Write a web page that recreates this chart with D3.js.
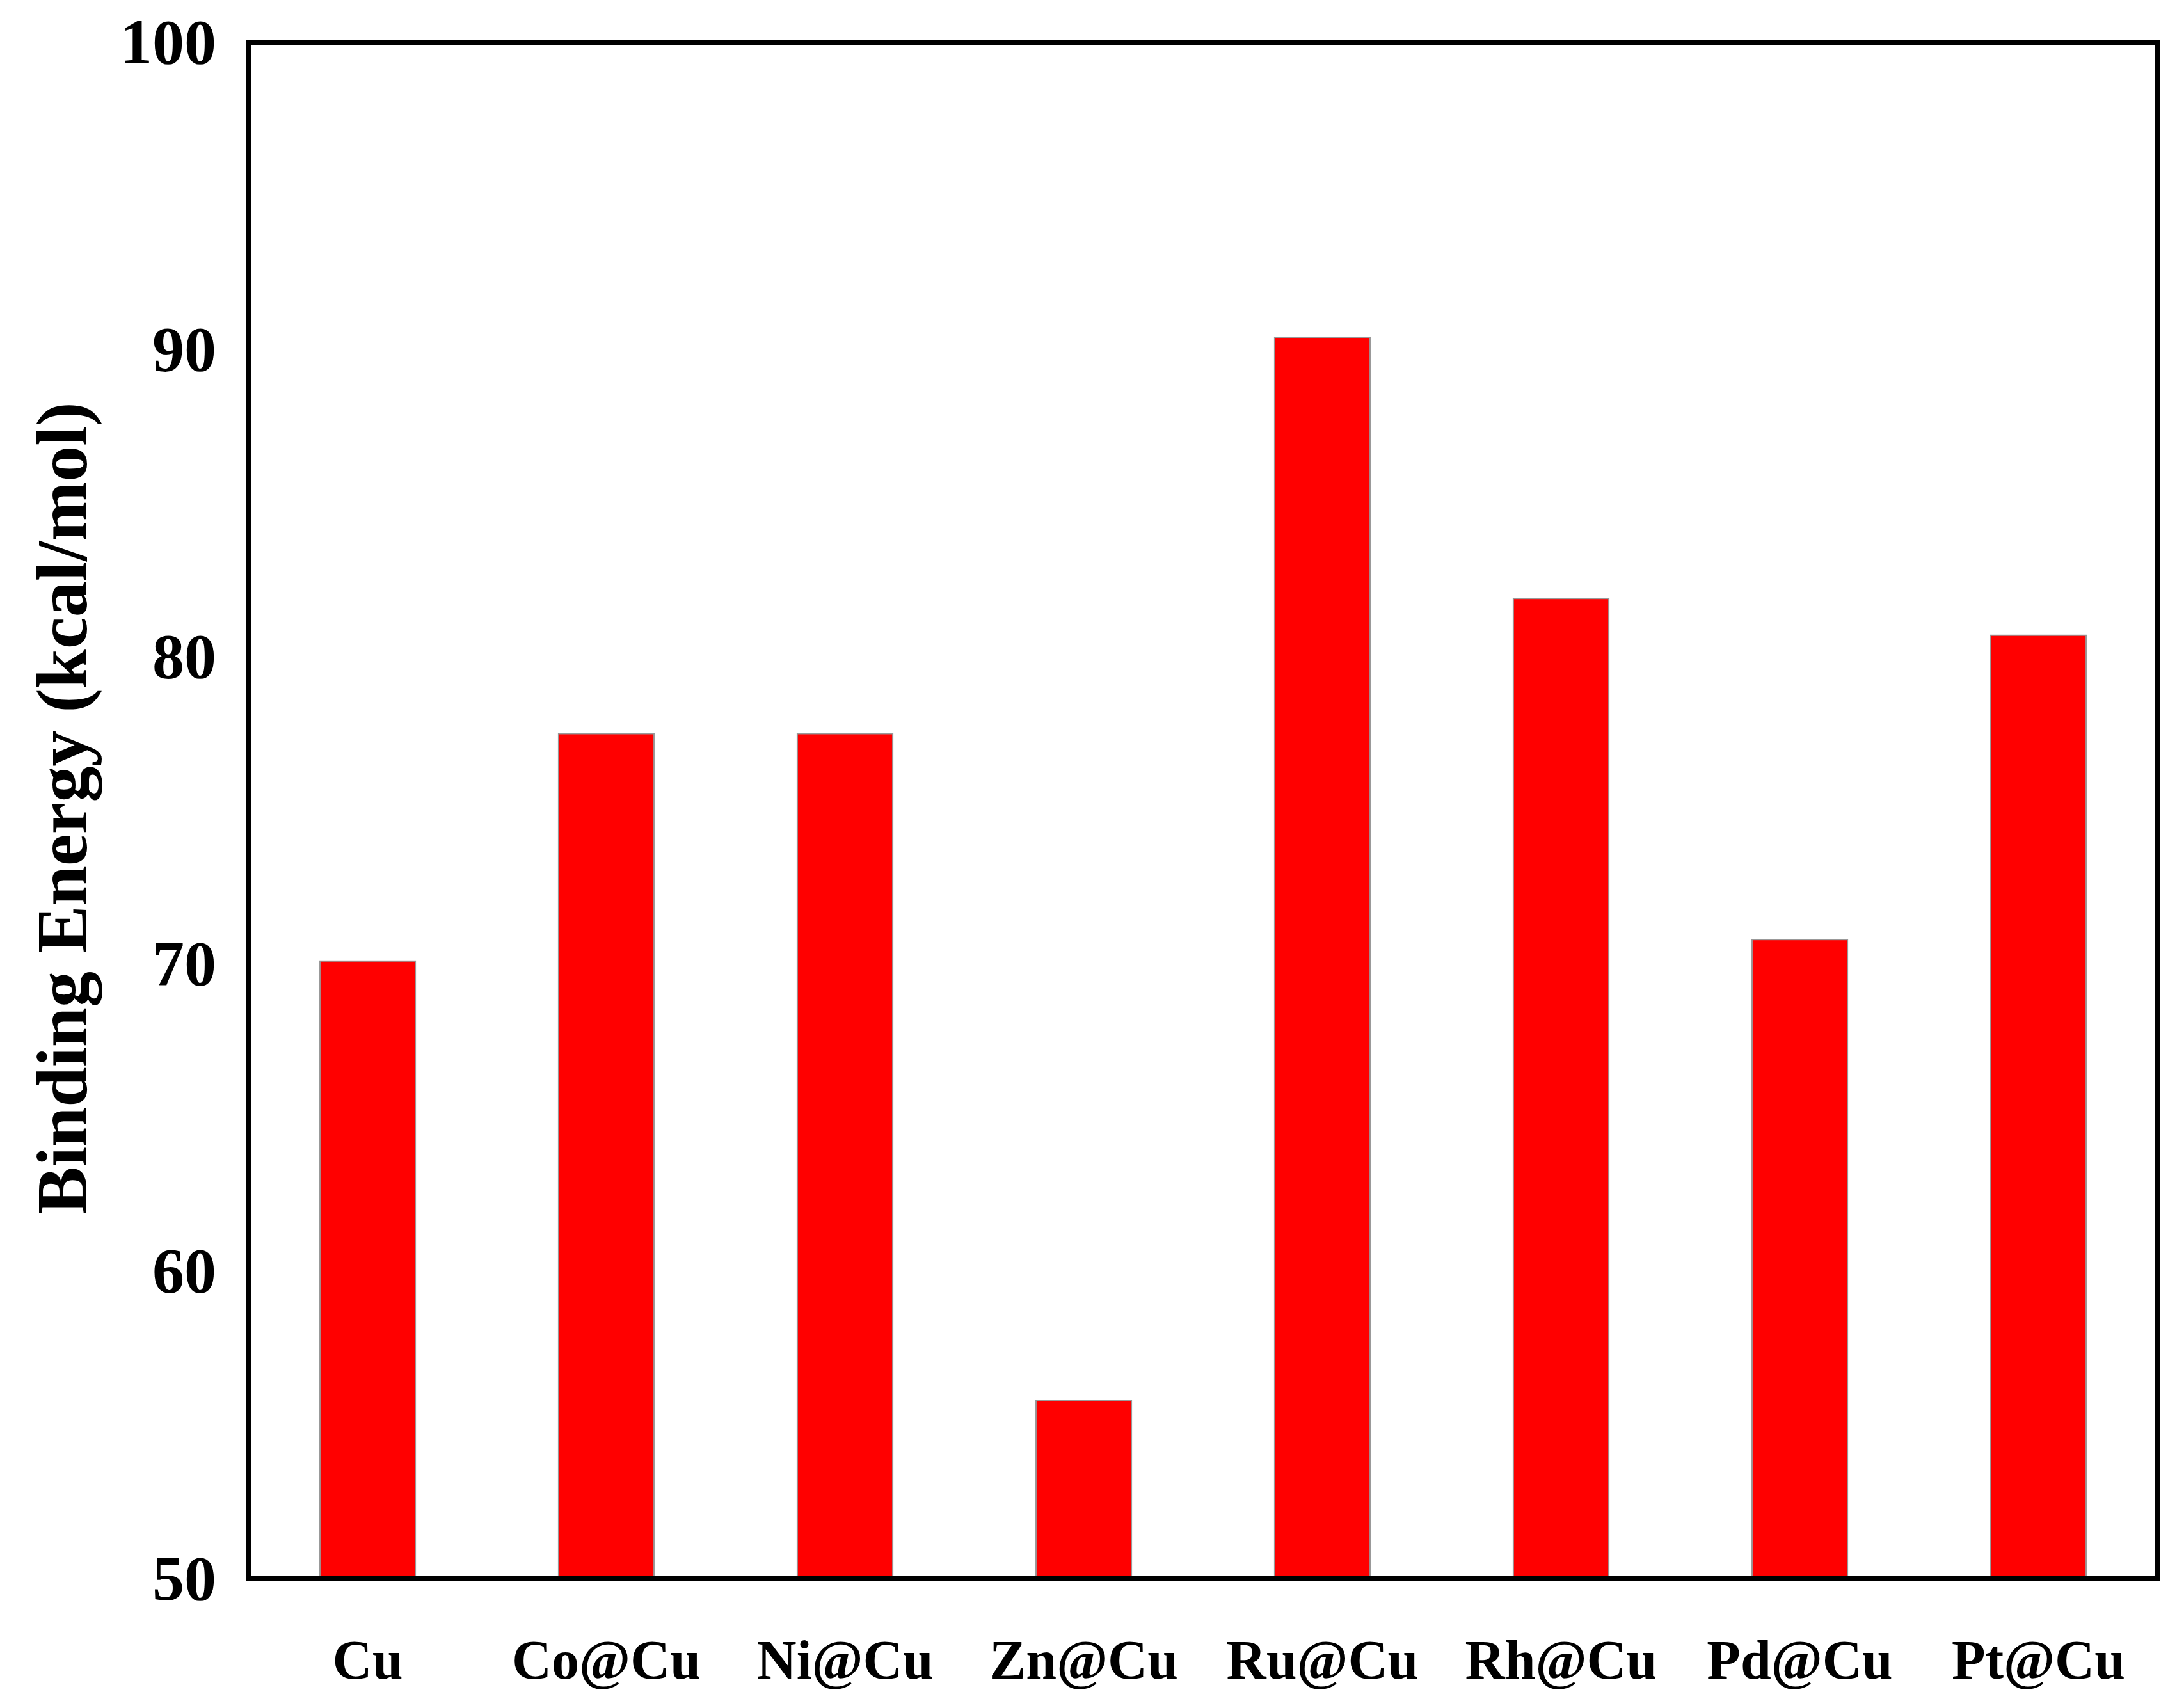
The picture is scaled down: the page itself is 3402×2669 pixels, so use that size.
<!DOCTYPE html>
<html><head><meta charset="utf-8">
<script src="https://cdn.jsdelivr.net/npm/d3@7"></script>
<style>body{margin:0;background:#fff}</style>
</head><body><svg width="3402" height="2669"></svg>
<script>
var categories = ['Cu','Co@Cu','Ni@Cu','Zn@Cu','Ru@Cu','Rh@Cu','Pd@Cu','Pt@Cu'];
var energies = [70.1, 77.5, 77.5, 55.8, 90.4, 81.9, 70.8, 80.7];
var yTicks = [50, 60, 70, 80, 90, 100];

var svg = d3.select('svg');
var plotLeft = 388, plotRight = 3372, plotTop = 66, plotBottom = 2467;

var xScale = d3.scaleBand().domain(categories).range([plotLeft, plotRight])
    .paddingInner(0.6).paddingOuter(0.3);
var yScale = d3.scaleLinear().domain([50, 100]).range([plotBottom, plotTop]);

svg.selectAll('rect.bar')
    .data(categories)
    .enter()
    .append('rect')
    .attr('class', 'bar')
    .attr('x', function(d){ return xScale(d); })
    .attr('y', function(d, i){ return yScale(energies[i]); })
    .attr('width', xScale.bandwidth())
    .attr('height', function(d, i){ return plotBottom - yScale(energies[i]); })
    .style('fill', '#ff0000')
    .style('stroke', '#999')
    .style('stroke-width', 2);

var font = '"Liberation Serif", "Times New Roman", serif';

// y axis labels
svg.append('g')
    .attr('transform', 'translate(' + plotLeft + ',0)')
    .call(d3.axisLeft(yScale).tickValues(yTicks).tickSize(0).tickPadding(50))
    .call(function(g){ g.select('.domain').remove(); })
    .selectAll('text')
    .style('font-family', font).style('font-weight', 'bold')
    .style('font-size', '100px').style('fill', '#000');

// x axis labels
svg.append('g')
    .attr('transform', 'translate(0,' + plotBottom + ')')
    .call(d3.axisBottom(xScale).tickSize(0).tickPadding(95))
    .call(function(g){ g.select('.domain').remove(); })
    .selectAll('text')
    .style('font-family', font).style('font-weight', 'bold')
    .style('font-size', '86px').style('fill', '#000');

// frame
svg.append('rect')
    .attr('x', plotLeft).attr('y', plotTop)
    .attr('width', plotRight - plotLeft).attr('height', plotBottom - plotTop)
    .style('fill', 'none').style('stroke', '#000').style('stroke-width', 8);

svg.append('text')
    .attr('transform', 'translate(135,1263) rotate(-90)')
    .attr('text-anchor', 'middle')
    .style('font-family', font).style('font-weight', 'bold')
    .style('font-size', '112px')
    .text('Binding Energy (kcal/mol)');
</script>
</body></html>
